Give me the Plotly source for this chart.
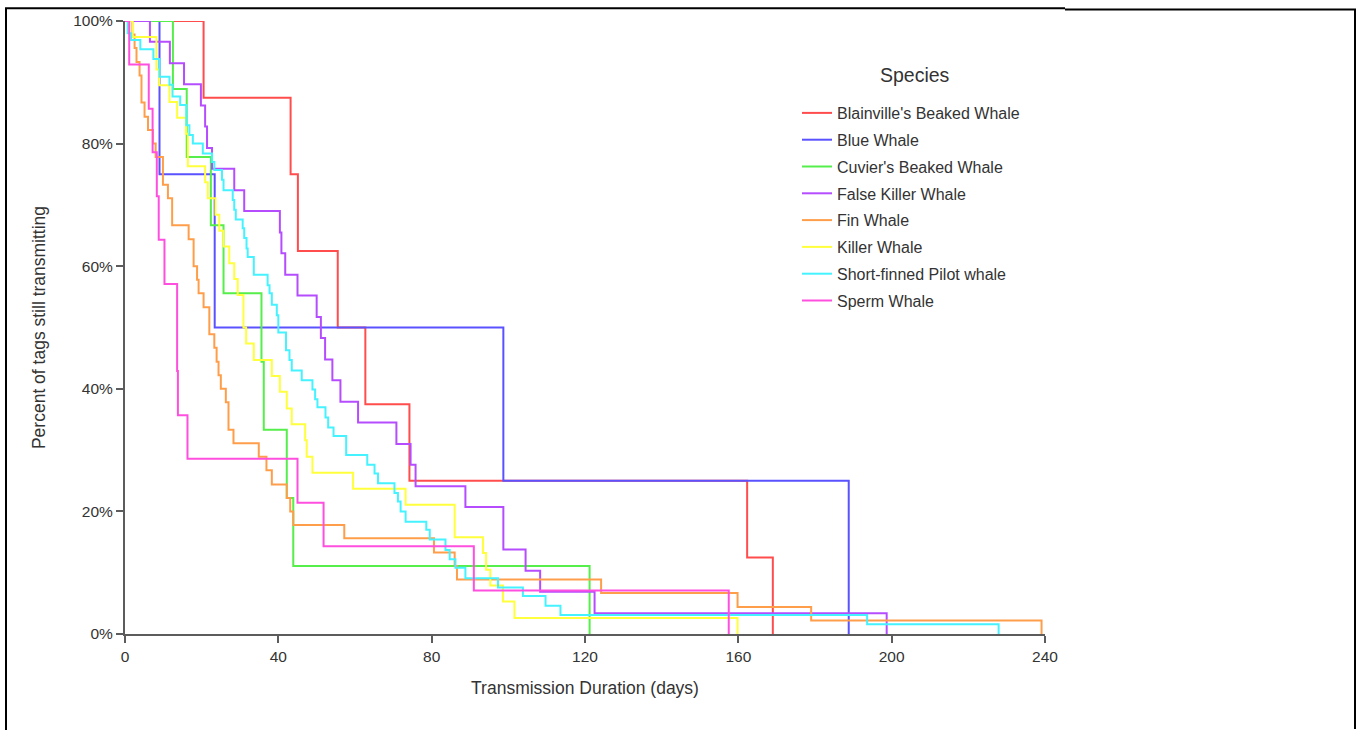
import plotly.graph_objects as go

# Kaplan-Meier style survival of satellite tags, by species
# (days at each drop, percent of tags still transmitting after the drop)
species = [
    "Blainville's Beaked Whale",
    "Blue Whale",
    "Cuvier's Beaked Whale",
    "False Killer Whale",
    "Fin Whale",
    "Killer Whale",
    "Short-finned Pilot whale",
    "Sperm Whale",
]

blainville_days = [20.5, 43.2, 45.1, 55.5, 62.7, 74.2, 162.3, 169.0]
blainville_pct = [87.5, 75.0, 62.5, 50.0, 37.5, 25.0, 12.5, 0.0]

blue_days = [9.0, 23.4, 98.7, 188.8]
blue_pct = [75.0, 50.0, 25.0, 0.0]

cuvier_days = [12.5, 16.1, 22.4, 25.7, 35.6, 36.2, 42.2, 43.9, 121.2]
cuvier_pct = [88.9, 77.8, 66.7, 55.6, 44.4, 33.3, 22.2, 11.1, 0.0]

false_killer_days = [6.5, 11.7, 15.4, 19.8, 20.9, 21.4, 22.7, 28.5, 31.1, 40.4,
                     40.8, 41.8, 45.0, 50.0, 51.1, 52.2, 54.1, 56.2, 60.8, 70.8,
                     74.5, 75.8, 88.8, 98.7, 104.5, 108.3, 122.5, 198.7]
false_killer_pct = [96.6, 93.1, 89.7, 86.2, 82.8, 79.3, 75.9, 72.4, 69.0, 65.5,
                    62.1, 58.6, 55.2, 51.7, 48.3, 44.8, 41.4, 37.9, 34.5, 31.0,
                    27.6, 24.1, 20.7, 13.8, 10.3, 6.9, 3.4, 0.0]

fin_days = [1.9, 2.5, 3.0, 3.8, 4.3, 5.1, 6.0, 7.3, 8.0, 9.9,
            11.2, 12.3, 16.6, 17.9, 18.8, 19.2, 20.5, 22.0, 23.3, 23.9,
            24.4, 25.0, 26.3, 27.0, 28.3, 34.9, 36.9, 38.3, 42.2, 43.1,
            43.9, 57.2, 80.6, 86.0, 86.6, 124.2, 159.8, 179.0, 239.1]
fin_pct = [97.8, 95.6, 93.3, 91.1, 86.7, 84.4, 82.2, 80.0, 77.8, 73.3,
           71.1, 66.7, 64.4, 60.0, 57.8, 55.6, 53.3, 48.9, 46.7, 44.4,
           42.2, 40.0, 37.8, 33.3, 31.1, 28.9, 26.7, 24.4, 22.2, 20.0,
           17.8, 15.6, 13.3, 11.1, 8.9, 6.7, 4.4, 2.2, 0.0]

killer_days = [2.0, 8.2, 8.9, 11.6, 13.6, 15.9, 16.4, 20.9, 21.6, 23.6,
               24.6, 25.7, 27.2, 28.5, 29.4, 30.9, 31.6, 33.6, 38.3, 40.4,
               42.2, 43.5, 47.0, 47.4, 48.9, 59.5, 73.2, 86.0, 93.4, 94.2,
               95.3, 98.6, 101.6, 159.8]
killer_pct = [97.4, 92.1, 89.5, 86.8, 84.2, 81.6, 76.3, 73.7, 71.1, 68.4,
              65.8, 63.2, 60.5, 57.9, 55.3, 50.0, 47.4, 44.7, 42.1, 39.5,
              36.8, 34.2, 31.6, 28.9, 26.3, 23.7, 21.1, 15.8, 13.2, 10.5,
              7.9, 5.3, 2.6, 0.0]

pilot_days = [0.7, 1.6, 4.0, 7.4, 9.0, 11.6, 12.4, 14.4, 16.0, 16.8,
              17.7, 20.3, 22.7, 23.3, 25.3, 25.7, 28.1, 28.5, 28.9, 30.7,
              31.1, 31.7, 32.0, 33.6, 37.2, 37.7, 38.3, 39.6, 40.0, 42.0,
              42.9, 43.5, 46.1, 48.9, 49.6, 50.2, 52.3, 53.0, 54.4, 57.7,
              63.2, 65.1, 66.0, 70.3, 71.2, 71.9, 73.2, 78.6, 79.5, 83.6,
              84.7, 86.2, 88.8, 97.3, 103.8, 109.7, 113.6, 193.6, 227.9]
pilot_pct = [98.0, 96.9, 95.4, 93.8, 90.9, 89.6, 87.7, 86.3, 83.0, 81.4,
             80.0, 78.4, 77.0, 75.7, 74.1, 72.4, 70.8, 69.2, 67.6, 66.2,
             64.6, 62.9, 61.5, 58.6, 56.9, 55.6, 53.7, 52.0, 49.2, 46.3,
             44.7, 43.0, 41.4, 39.9, 38.3, 37.0, 35.3, 33.7, 32.3, 29.2,
             27.6, 26.2, 24.6, 23.0, 21.6, 20.0, 18.3, 17.0, 15.4, 13.7,
             12.2, 10.8, 9.1, 7.6, 6.2, 4.6, 3.1, 1.6, 0.0]

sperm_days = [1.1, 6.2, 7.2, 8.3, 8.8, 10.3, 13.6, 13.8, 16.3, 45.0, 51.8, 91.0, 157.5]
sperm_pct = [92.9, 85.7, 78.6, 71.4, 64.3, 57.1, 42.9, 35.7, 28.6, 21.4, 14.3, 7.1, 0.0]

x_ticks = [0, 40, 80, 120, 160, 200, 240]
y_ticks = [0, 20, 40, 60, 80, 100]

series = [
    (blainville_days, blainville_pct, "#ff4d4d"),
    (blue_days, blue_pct, "#5a52ff"),
    (cuvier_days, cuvier_pct, "#55ee4a"),
    (false_killer_days, false_killer_pct, "#b54dff"),
    (fin_days, fin_pct, "#ff9e4a"),
    (killer_days, killer_pct, "#ffff3d"),
    (pilot_days, pilot_pct, "#45f2ff"),
    (sperm_days, sperm_pct, "#ff4fdf"),
]

FONT = "Liberation Sans, Arial, sans-serif"
AXIS = "#5c5c5c"
TEXT = "#333333"

fig = go.Figure()
for i, (name, (days, pct, color)) in enumerate(zip(species, series)):
    fig.add_trace(go.Scatter(
        x=[0.0] + days,
        y=[100.0] + pct,
        mode="lines",
        line=dict(color=color, width=2, shape="hv"),
        name=name,
        legendgroup=f"g{i}",
        cliponaxis=False,
    ))

# plot area in pixels
L, R, T, B = 125, 1045, 21, 634
W, H = 1360, 730


def px(xp):
    return (xp - L) / (R - L)


def py(yp):
    return (B - yp) / (B - T)


frame = dict(color="black", width=2)
shapes = [
    dict(type="line", xref="paper", yref="paper", x0=px(6), x1=px(6), y0=py(9), y1=py(731), line=frame),
    dict(type="line", xref="paper", yref="paper", x0=px(5), x1=px(1065), y0=py(8.3), y1=py(8.3), line=frame),
    dict(type="line", xref="paper", yref="paper", x0=px(1065), x1=px(1356), y0=py(9.5), y1=py(9.5), line=frame),
    dict(type="line", xref="paper", yref="paper", x0=px(1355), x1=px(1355), y0=py(9), y1=py(729), line=frame),
]

fig.update_layout(
    width=W, height=H,
    margin=dict(l=L, r=W - R, t=T, b=H - B, autoexpand=False),
    paper_bgcolor="white", plot_bgcolor="white",
    font=dict(family=FONT, color=TEXT),
    shapes=shapes,
    showlegend=True,
    legend=dict(
        font=dict(size=16, color=TEXT),
        x=px(797), xanchor="left",
        y=py(96), yanchor="top",
        bgcolor="rgba(0,0,0,0)",
        tracegroupgap=3,
        traceorder="grouped",
    ),
    annotations=[
        dict(text="Species", xref="paper", yref="paper", x=px(915), y=py(75),
             xanchor="center", yanchor="middle", showarrow=False,
             font=dict(size=19.5, color=TEXT)),
    ],
    xaxis=dict(
        range=[0, 240], tickvals=x_ticks, ticktext=[str(v) for v in x_ticks],
        showgrid=False, zeroline=False,
        showline=True, linecolor=AXIS, linewidth=2,
        ticks="outside", ticklen=7, tickwidth=2, tickcolor=AXIS,
        tickfont=dict(size=15.5, color=TEXT),
        title=dict(text="Transmission Duration (days)", font=dict(size=17.5, color=TEXT), standoff=18),
        automargin=False,
    ),
    yaxis=dict(
        range=[0, 100], tickvals=y_ticks, ticktext=[f"{v}%" for v in y_ticks],
        showgrid=False, zeroline=False,
        showline=True, linecolor=AXIS, linewidth=2,
        ticks="outside", ticklen=7, tickwidth=2, tickcolor=AXIS,
        tickfont=dict(size=15.5, color=TEXT),
        title=dict(text="Percent of tags still transmitting", font=dict(size=17.5, color=TEXT), standoff=23),
        automargin=False,
    ),
)

fig.write_html("out.html")
